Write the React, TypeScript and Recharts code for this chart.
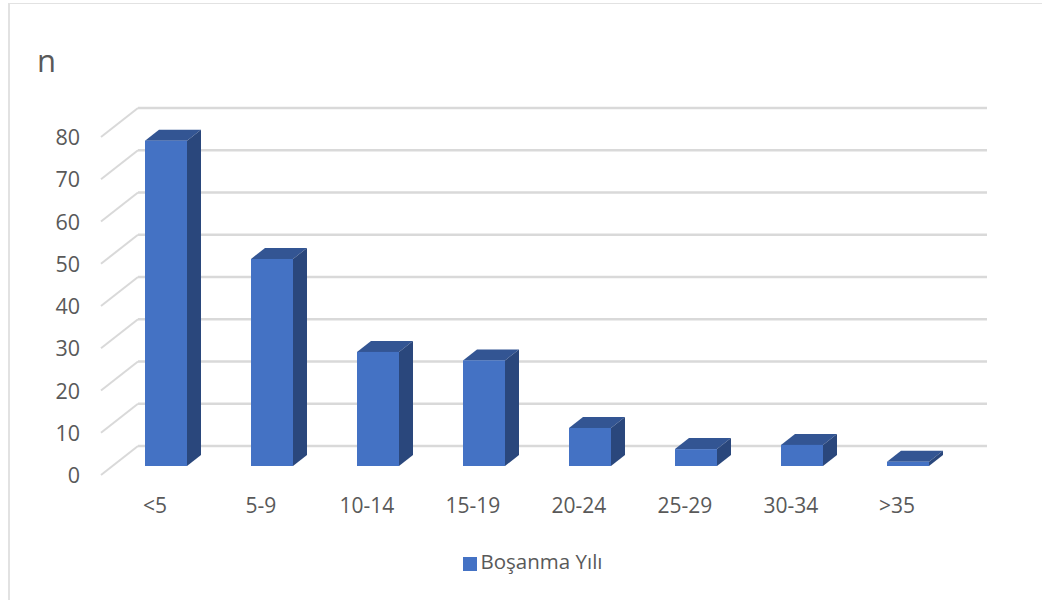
import { BarChart, Bar, XAxis, YAxis, CartesianGrid, Legend } from "recharts";

const categories = ["<5", "5-9", "10-14", "15-19", "20-24", "25-29", "30-34", ">35"];
const values = [77, 49, 27, 25, 9, 4, 5, 1];
const yTicks = [0, 10, 20, 30, 40, 50, 60, 70, 80];

const data = categories.map((name, i) => ({ name, value: values[i] }));

const FONT = "'Open Sans', sans-serif";
const GRID = "#d9d9d9";
const TEXT = "#595959";

// fake 3D depth of the bars and of the floor/wall
const DEPTH_X = 14;
const DEPTH_Y = 11;

// wall line plus the diagonal on the side wall
function GridLine(props: any) {
  const y = props.y1;
  return (
    <g key={props.key ?? y}>
      <line x1={138} y1={y - 20} x2={987} y2={y - 20} stroke={GRID} strokeWidth={2.5} />
      <line x1={101} y1={y + 9} x2={138} y2={y - 20} stroke={GRID} strokeWidth={2} />
    </g>
  );
}

function Bar3D(props: any) {
  const { x, y, width, height } = props;
  const r = x + width;
  const b = y + height;
  return (
    <g>
      <polygon
        points={`${x},${y} ${x + DEPTH_X},${y - DEPTH_Y} ${r + DEPTH_X},${y - DEPTH_Y} ${r},${y}`}
        fill="#335593"
      />
      <polygon
        points={`${r},${y} ${r + DEPTH_X},${y - DEPTH_Y} ${r + DEPTH_X},${b - DEPTH_Y} ${r},${b}`}
        fill="#2a477c"
      />
      <rect x={x} y={y} width={width} height={height} fill="#4472c4" />
    </g>
  );
}

function YTick({ x, y, payload }: any) {
  return (
    <text x={x - 25} y={y + 17} textAnchor="end" fontSize={21.5} fontFamily={FONT} fill={TEXT}>
      {payload.value}
    </text>
  );
}

function XTick({ x, y, payload }: any) {
  return (
    <text x={x - 11} y={513} textAnchor="middle" fontSize={21} fontFamily={FONT} fill={TEXT}>
      {payload.value}
    </text>
  );
}

export default function App() {
  return (
    <div style={{ position: "absolute", left: 0, top: 0, width: 1042, height: 600, overflow: "hidden", background: "#fff" }}>
      <div style={{ position: "absolute", left: 8, top: 3, width: 1040, height: 620, borderTop: "1px solid #e2e2e2", borderLeft: "2px solid #e2e2e2" }} />
      <div style={{ position: "absolute", left: 37, top: 40, fontFamily: FONT, fontSize: 31, color: TEXT, lineHeight: "40px" }}>n</div>
      <BarChart
        width={1042}
        height={600}
        data={data}
        margin={{ top: 128, right: 81, left: 53, bottom: 74 }}
        style={{ position: "absolute", left: 0, top: 0 }}
      >
        <CartesianGrid vertical={false} horizontal={GridLine} />
        <XAxis dataKey="name" height={60} axisLine={false} tickLine={false} tick={XTick} interval={0} />
        <YAxis width={60} domain={[0, 80]} ticks={yTicks} axisLine={false} tickLine={false} tick={YTick} interval={0} />
        <Legend
          verticalAlign="middle"
          iconType="square"
          iconSize={14}
          wrapperStyle={{ position: "absolute", top: 547, left: 0, width: 1075, fontFamily: FONT, fontSize: 20.5 }}
          formatter={(v) => <span style={{ color: TEXT }}>{v}</span>}
        />
        <Bar dataKey="value" name="Boşanma Yılı" fill="#4472c4" barSize={42} shape={Bar3D} isAnimationActive={false} />
      </BarChart>
    </div>
  );
}
